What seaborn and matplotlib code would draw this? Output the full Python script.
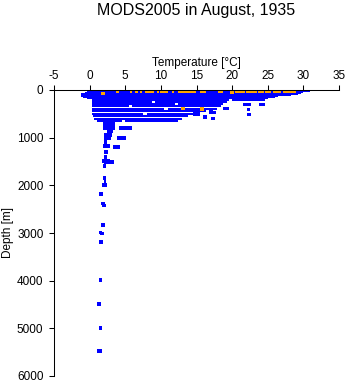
import matplotlib
matplotlib.use("Agg")
import matplotlib.pyplot as plt
import seaborn as sns
import pandas as pd

sns.set_theme(style="ticks")
plt.rcParams["font.family"] = ["Liberation Sans", "DejaVu Sans"]
plt.rcParams["axes.unicode_minus"] = False

# Profile observations: temperature range [°C] recorded at each depth [m]
band_depth = [5, 20, 40, 60, 80, 100, 125, 150, 175, 200, 200,
              245, 245, 295, 295, 345, 345, 390, 390, 440, 500, 500,
              555, 605, 655, 655, 720, 790, 790, 870, 950, 1000, 1000,
              1100, 1180, 1200, 1310, 1400, 1480, 1510, 1600, 1850, 1900, 2000]
band_tmin = [1.5, 1.0, -0.3, -0.6, -1.2, -1.2, -1.2, -0.9, -0.4, 0.3, 20.0,
             0.4, 9.2, 0.4, 12.4, 0.4, 6.0, 0.4, 11.0, 0.4, 0.4, 8.0,
             0.5, 0.6, 1.0, 5.0, 1.9, 1.9, 4.1, 2.4, 2.0, 2.0, 3.9,
             2.0, 1.9, 3.3, 2.0, 2.0, 1.8, 2.0, 1.9, 1.9, 2.0, 1.8]
band_tmax = [31.0, 30.9, 30.0, 29.6, 29.3, 28.2, 26.4, 26.0, 25.0, 19.5, 24.6,
             8.8, 19.3, 12.0, 18.7, 5.5, 18.4, 10.5, 17.9, 16.4, 7.5, 15.0,
             13.8, 13.0, 4.5, 12.4, 3.6, 3.6, 6.0, 3.3, 3.2, 3.0, 5.1,
             2.5, 2.9, 4.3, 2.6, 2.5, 2.8, 3.4, 2.3, 2.3, 2.3, 2.5]

# Surface observations: temperature ranges near the sea surface
surf_depth = [55, 30, 30, 30, 30, 30, 30, 30, 30, 30, 30, 30, 45,
              30, 30, 30, 30, 30, 30, 30]
surf_tmin = [1.6, 3.7, 5.6, 6.3, 7.0, 7.8, 9.4, 9.9, 11.5, 12.4, 15.5, 18.0, 19.7,
             20.4, 21.9, 23.7, 24.6, 25.7, 27.1, 28.3]
surf_tmax = [2.0, 4.0, 5.8, 6.6, 7.2, 8.9, 9.6, 10.9, 11.7, 14.8, 16.2, 18.6, 20.1,
             21.6, 23.4, 24.4, 25.3, 26.7, 28.1, 28.8]

# Single observations
pt_depth = [300, 300, 300, 300, 405, 510, 390, 390, 460, 470, 565, 600, 505, 505,
            2180, 2380, 2420, 2830, 2990, 3010, 3190, 3990, 4490, 4990, 5480, 5480,
            385, 395]
pt_temp = [21.8, 22.4, 24.0, 24.3, 22.3, 22.4, 18.9, 19.3, 17.0, 17.5, 16.2, 17.3, 14.8, 15.2,
           1.6, 1.9, 2.0, 1.9, 1.55, 1.75, 1.6, 1.5, 1.35, 1.5, 1.35, 1.45,
           13.1, 15.8]
pt_source = ["profile"] * 26 + ["surface"] * 2

BLUE = "#0000ff"
ORANGE = "#ffa500"

fig = plt.figure(figsize=(3.48, 3.84), dpi=100)
ax = fig.add_axes([54 / 348, 8 / 384, 285 / 348, 286 / 384])

bands = pd.DataFrame({"depth": band_depth, "tmin": band_tmin, "tmax": band_tmax})
upper = bands[bands["depth"] < 700]
deep = bands[bands["depth"] >= 700]
ax.hlines(upper["depth"], upper["tmin"], upper["tmax"], colors=BLUE,
          linewidth=1.1, antialiased=False, zorder=2)
ax.hlines(deep["depth"], deep["tmin"], deep["tmax"], colors=BLUE,
          linewidth=1.5, antialiased=False, zorder=2)
ax.hlines(surf_depth, surf_tmin, surf_tmax, colors=ORANGE, linewidth=2.0,
          antialiased=False, zorder=2.1)

points = pd.DataFrame({"depth": pt_depth, "temp": pt_temp, "source": pt_source})
sns.scatterplot(data=points, x="temp", y="depth", hue="source",
                palette={"profile": BLUE, "surface": ORANGE},
                marker="s", s=6.5, linewidth=0, legend=False, ax=ax, zorder=2.2)

ax.set_xlim(-5, 35)
ax.set_ylim(6000, 0)
ax.set_xticks(range(-5, 36, 5))
ax.set_yticks(range(0, 6001, 1000))

ax.xaxis.tick_top()
ax.xaxis.set_label_position("top")
ax.set_xlabel("Temperature [°C]", fontsize=8.5, labelpad=2.5, color="black")
ax.set_ylabel("Depth [m]", fontsize=8.5, labelpad=2, color="black")

ax.tick_params(axis="both", direction="out", length=3.6, width=0.75,
               colors="black", labelsize=8.5)
ax.tick_params(axis="x", pad=2.5)
ax.tick_params(axis="y", pad=4)

for side in ("right", "bottom"):
    ax.spines[side].set_visible(False)
for side in ("left", "top"):
    ax.spines[side].set_color("black")
    ax.spines[side].set_linewidth(0.75)

fig.text((54 + 339) / 2 / 348, 1 - 14.5 / 384, "MODS2005 in August, 1935",
         ha="center", va="baseline", fontsize=11.5, color="black")

fig.savefig("out.png", dpi=100, facecolor="white")
